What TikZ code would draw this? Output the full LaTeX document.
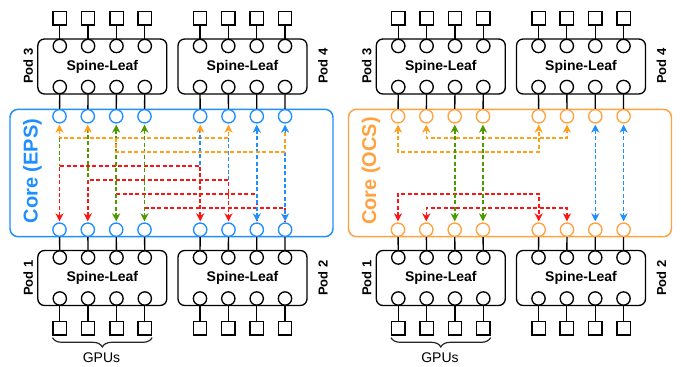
\documentclass[tikz,border=0pt]{standalone}
\usepackage{fontspec}
\setmainfont{Liberation Sans}
\usetikzlibrary{arrows.meta,decorations.pathreplacing,calc}

\definecolor{epsblue}{HTML}{1E8FFF}
\definecolor{ocsorange}{HTML}{FFA23F}
\definecolor{flowor}{HTML}{FFA01A}
\definecolor{flowgr}{HTML}{4D9900}
\definecolor{flowrd}{HTML}{FF1414}
\definecolor{flowbl}{HTML}{1E8FFF}

\begin{document}
\begin{tikzpicture}[x=0.75pt,y=-0.75pt,
  wire/.style={draw=black, line width=1pt},
  podbox/.style={draw=black, line width=1pt, rounded corners=5pt,
    minimum width=96.75pt, minimum height=41.25pt, inner sep=0pt,
    font=\fontsize{10.5}{12}\selectfont\bfseries},
  port/.style={circle, draw=black, fill=white, line width=1pt,
    minimum size=10pt, inner sep=0pt},
  gpu/.style={rectangle, draw=black, fill=white, line width=1pt,
    minimum size=10pt, inner sep=0pt},
  podlabel/.style={rotate=90, font=\fontsize{9.75}{11}\selectfont\bfseries},
  corebox/.style={draw=#1, line width=1.1pt, rounded corners=6pt,
    minimum width=242.25pt, minimum height=95.5pt, inner sep=0pt},
  corelabel/.style={rotate=90, text=#1, font=\fontsize{15}{18}\selectfont\bfseries},
  flow/.style={line width=1.2pt, dash pattern=on 3pt off 1.8pt},
  dtips/.style={{Stealth[length=6pt,width=6pt,inset=1.8pt]}-{Stealth[length=6pt,width=6pt,inset=1.8pt]}},
  tipend/.style={-{Stealth[length=6pt,width=6pt,inset=1.8pt]}},
  gpubrace/.style={draw=black!85, line width=0.9pt, decorate,
    decoration={brace, mirror, amplitude=7pt}},
]
\fill[white] (0,0) rectangle (681,367);
\useasboundingbox (0,0) rectangle (681,367);

\foreach \p/\ox/\cc/\lbl in {L/0/epsblue/EPS, R/338.5/ocsorange/OCS} {
  % core switch with its 8 ports
  \node[corebox=\cc] (\p core) at ({\ox+171.5},173) {};
  \node[corelabel=\cc] (\p corelbl) at ({\ox+32.5},171) {Core (\lbl)};
  \foreach \i/\x in {1/59.5,2/87.8,3/116.2,4/144.5,5/200.2,6/228.5,7/256.8,8/285.1} {
    \node[port, draw=\cc] (\p t\i) at ({\ox+\x},116.3) {};
    \node[port, draw=\cc] (\p b\i) at ({\ox+\x},229.7) {};
    \coordinate (\p up\i) at ($(\p t\i.south)+(0,1)$);
    \coordinate (\p dn\i) at ($(\p b\i.north)+(0,-1)$);
  }
  % upper pods (3 and 4)
  \foreach \k/\px/\cbase in {3/102.3/0, 4/242.5/4} {
    \node[podbox] (\p\k box) at ({\ox+\px},66.5) {Spine-Leaf};
    \foreach \j/\dx in {1/-42.5,2/-14.2,3/14.2,4/42.5} {
      \pgfmathtruncatemacro\n{\cbase+\j}
      \node[port] (\p\k u\j) at ({\ox+\px+\dx},46) {};
      \node[port] (\p\k l\j) at ({\ox+\px+\dx},87) {};
      \node[gpu] (\p\k g\j) at ({\ox+\px+\dx},18.3) {};
      \draw[wire] (\p\k g\j) -- (\p\k u\j);
      \draw[wire] (\p\k l\j) -- (\p t\n);
    }
  }
  % lower pods (1 and 2)
  \foreach \k/\px/\cbase in {1/102.3/0, 2/242.5/4} {
    \node[podbox] (\p\k box) at ({\ox+\px},278) {Spine-Leaf};
    \foreach \j/\dx in {1/-42.5,2/-14.2,3/14.2,4/42.5} {
      \pgfmathtruncatemacro\n{\cbase+\j}
      \node[port] (\p\k u\j) at ({\ox+\px+\dx},257.5) {};
      \node[port] (\p\k l\j) at ({\ox+\px+\dx},298.5) {};
      \node[gpu] (\p\k g\j) at ({\ox+\px+\dx},328.3) {};
      \draw[wire] (\p b\n) -- (\p\k u\j);
      \draw[wire] (\p\k l\j) -- (\p\k g\j);
    }
  }
  % pod labels
  \node[podlabel] (\p pod3) at ({\ox+28.3},66) {Pod 3};
  \node[podlabel] (\p pod4) at ({\ox+323},66) {Pod 4};
  \node[podlabel] (\p pod1) at ({\ox+28.3},278) {Pod 1};
  \node[podlabel] (\p pod2) at ({\ox+323},278) {Pod 2};
  % GPU brace
  \draw[gpubrace] ($(\p1g1.south west)+(0,2)$) -- ($(\p1g4.south east)+(0,2)$);
  \node[font=\fontsize{10.5}{12}\selectfont] (\p gpus) at ({\ox+101.5},358) {GPUs};
}

% routing levels inside the cores
\coordinate (hA) at (0,138);
\coordinate (hB) at (0,152);
\coordinate (h1) at (0,166);
\coordinate (h2) at (0,180);
\coordinate (h3) at (0,194);
\coordinate (h4) at (0,208);

% ---- EPS core ----
\draw[flow, flowrd, dtips] (Ldn1) -- (Ldn1 |- h1) -- (Ldn5 |- h1) -- (Ldn5);
\draw[flow, flowrd, dtips] (Ldn2) -- (Ldn2 |- h2) -- (Ldn6 |- h2) -- (Ldn6);
\draw[flow, flowrd] (Ldn3 |- h3) -- (Ldn7 |- h3) -- (Ldn7);
\draw[flow, flowrd] (Ldn4 |- h4) -- (Ldn8 |- h4) -- (Ldn8);
\draw[flow, flowor, dtips] (Lup1) -- (Lup1 |- hA) -- (Lup6 |- hA) -- (Lup6);
\draw[flow, flowgr] (Lup1 |- hA) -- (Lup1 |- h1);
\draw[flow, flowgr] ($(Lup2)+(0,4)$) -- (Lup2 |- h2);
\draw[flow, flowgr, dtips] (Lup3) -- (Ldn3);
\draw[flow, flowgr, dtips] (Lup4) -- (Ldn4);
\draw[flow, flowbl] ($(Lup5)+(0,4)$) -- (Lup5 |- h1);
\draw[flow, flowbl] (Lup6 |- hA) -- (Lup6 |- h2);
\draw[flow, flowbl, dtips] (Lup7) -- (Ldn7);
\draw[flow, flowbl, tipend] (Lup8 |- hB) -- (Ldn8);
\draw[flow, flowor] (Lup3 |- hA) -- (Lup3 |- hB) -- (Lup8 |- hB) -- ($(Lup8)+(0,4)$);
\draw[flowor, tipend] ($(Lup2)+(0,8.5)$) -- (Lup2);
\draw[flowor, tipend] ($(Lup5)+(0,8.5)$) -- (Lup5);
\draw[flowbl, tipend] ($(Lup8)+(0,8.5)$) -- (Lup8);

% ---- OCS core ----
\draw[flow, flowor, dtips] (Rup2) -- (Rup2 |- hA) -- (Rup6 |- hA) -- (Rup6);
\draw[flow, flowor, dtips] (Rup1) -- (Rup1 |- hB) -- (Rup5 |- hB) -- (Rup5);
\draw[flow, flowrd, dtips] (Rdn1) -- (Rdn1 |- h3) -- (Rdn5 |- h3) -- (Rdn5);
\draw[flow, flowrd, dtips] (Rdn2) -- (Rdn2 |- h4) -- (Rdn6 |- h4) -- (Rdn6);
\draw[flow, flowgr, dtips] (Rup3) -- (Rdn3);
\draw[flow, flowgr, dtips] (Rup4) -- (Rdn4);
\draw[flow, flowbl, dtips] (Rup7) -- (Rdn7);
\draw[flow, flowbl, dtips] (Rup8) -- (Rdn8);
\end{tikzpicture}
\end{document}
